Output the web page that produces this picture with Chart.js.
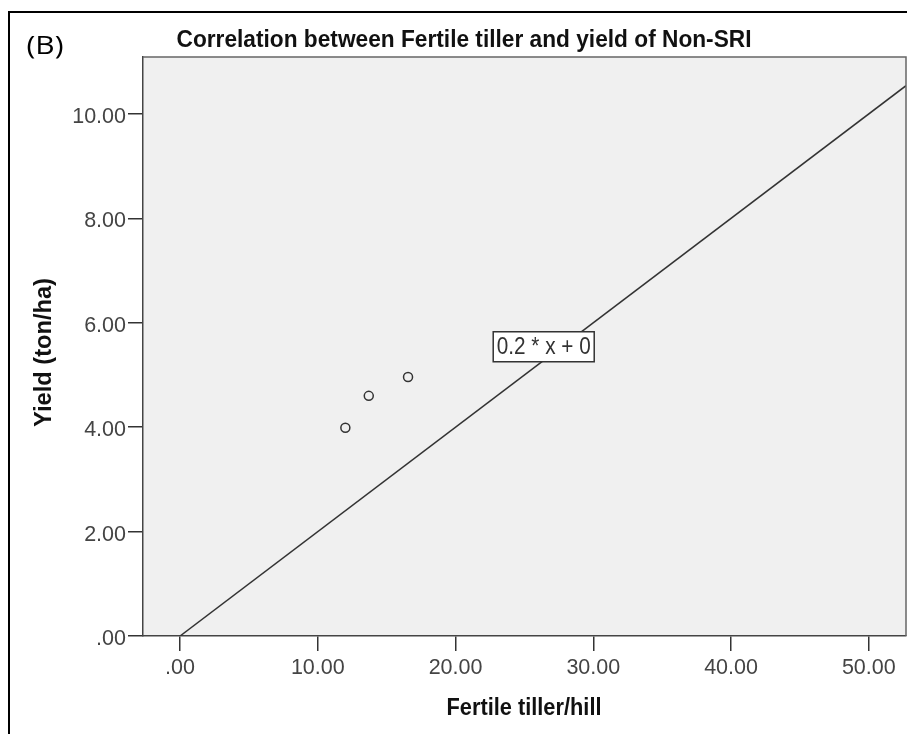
<!DOCTYPE html>
<html>
<head>
<meta charset="utf-8">
<script src="https://cdn.jsdelivr.net/npm/chart.js@4"></script>
<style>
  body { margin: 0; background: #fff; }
</style>
</head>
<body>
<canvas id="chart" width="907" height="734"></canvas>
<script>
// data
const tillers = [12.0, 13.7, 16.55];
const yields = [3.99, 4.60, 4.96];
const fitSlope = 0.2;
const fitIntercept = 0;
const fitLabel = '0.2 * x + 0';
const fitLabelAt = [26.4, 5.54];

const xTicks = [0, 10, 20, 30, 40, 50];
const xTickLabels = ['.00', '10.00', '20.00', '30.00', '40.00', '50.00'];
const yTicks = [0, 2, 4, 6, 8, 10];
const yTickLabels = ['.00', '2.00', '4.00', '6.00', '8.00', '10.00'];

const xMin = -2.69, xMax = 52.7;
const yMin = 0, yMax = 11.09;

const points = tillers.map((x, i) => ({ x: x, y: yields[i] }));
const fitLine = [0, xMax].map(x => ({ x: x, y: fitSlope * x + fitIntercept }));

const sans = '"Liberation Sans", Arial, sans-serif';
const tickFont = { family: sans, size: 21.5 };
const boldFont = 'bold 23px ' + sans;

// draw text squeezed/stretched to a given width
function fitText(ctx, text, x, y, font, width, rot) {
    ctx.save();
    ctx.font = font;
    const w = ctx.measureText(text).width;
    ctx.translate(x, y);
    if (rot) ctx.rotate(rot);
    ctx.scale(width / w, 1);
    ctx.fillText(text, 0, 0);
    ctx.restore();
}

const decor = {
    id: 'decor',
    beforeDraw(chart) {
        const { ctx, chartArea: a } = chart;
        ctx.save();
        ctx.fillStyle = '#f0f0f0';
        ctx.fillRect(a.left, a.top, a.right - a.left, a.bottom - a.top);
        ctx.restore();
    },
    afterDraw(chart) {
        const { ctx, chartArea: a, scales } = chart;
        ctx.save();
        // frame
        ctx.strokeStyle = '#666';
        ctx.lineWidth = 1.5;
        ctx.beginPath();
        ctx.moveTo(a.left, a.top);
        ctx.lineTo(a.right, a.top);
        ctx.lineTo(a.right, a.bottom);
        ctx.stroke();

        // outer figure border
        ctx.strokeStyle = '#000';
        ctx.lineWidth = 2;
        ctx.beginPath();
        ctx.moveTo(9, 734);
        ctx.lineTo(9, 12);
        ctx.lineTo(907, 12);
        ctx.stroke();

        // texts
        ctx.fillStyle = '#000';
        ctx.textAlign = 'left';
        ctx.textBaseline = 'middle';
        fitText(ctx, '(B)', 26.5, 47, '25px "Open Sans", ' + sans, 37);
        ctx.textBaseline = 'alphabetic';
        ctx.fillStyle = '#111';
        fitText(ctx, 'Correlation between Fertile tiller and yield of Non-SRI', 176.5, 47, boldFont, 575);
        fitText(ctx, 'Fertile tiller/hill', 446.5, 715, boldFont, 155);
        fitText(ctx, 'Yield (ton/ha)', 51, 427, boldFont, 149, -Math.PI / 2);

        // fit label box
        const cx = scales.x.getPixelForValue(fitLabelAt[0]);
        const cy = scales.y.getPixelForValue(fitLabelAt[1]);
        const w = 101;
        const h = 30;
        ctx.fillStyle = '#fff';
        ctx.fillRect(cx - w / 2, cy - h / 2, w, h);
        ctx.strokeStyle = '#333';
        ctx.lineWidth = 1.5;
        ctx.strokeRect(cx - w / 2, cy - h / 2, w, h);
        ctx.fillStyle = '#333';
        ctx.textBaseline = 'middle';
        fitText(ctx, fitLabel, cx - 47, cy + 1, '24px ' + sans, 94);
        ctx.restore();
    }
};

new Chart(document.getElementById('chart'), {
    type: 'scatter',
    data: {
        datasets: [
            {
                label: 'Observed',
                data: points,
                pointRadius: 4.5,
                pointBorderWidth: 1.5,
                pointBorderColor: '#333',
                pointBackgroundColor: 'rgba(0,0,0,0)',
                showLine: false
            },
            {
                label: 'Fit',
                data: fitLine,
                showLine: true,
                borderColor: '#333',
                borderWidth: 1.5,
                pointRadius: 0
            }
        ]
    },
    options: {
        responsive: false,
        animation: false,
        layout: { autoPadding: false, padding: { top: 57, right: 1, left: 0, bottom: 0 } },
        plugins: {
            legend: { display: false },
            tooltip: { enabled: false }
        },
        scales: {
            x: {
                type: 'linear',
                min: xMin,
                max: xMax,
                afterBuildTicks: s => { s.ticks = xTicks.map(v => ({ value: v })); },
                afterFit: s => { s.height = 98; s.paddingLeft = 0; s.paddingRight = 0; },
                grid: { drawOnChartArea: false, drawTicks: true, tickLength: 15, color: '#333', lineWidth: 1.5 },
                border: { display: true, color: '#444', width: 1.5 },
                ticks: {
                    color: '#444',
                    font: tickFont,
                    padding: 4,
                    maxRotation: 0,
                    callback: v => xTickLabels[xTicks.indexOf(v)]
                }
            },
            y: {
                type: 'linear',
                min: yMin,
                max: yMax,
                afterBuildTicks: s => { s.ticks = yTicks.map(v => ({ value: v })); },
                afterFit: s => { s.width = 143; s.paddingTop = 0; s.paddingBottom = 0; },
                grid: { drawOnChartArea: false, drawTicks: true, tickLength: 15, color: '#333', lineWidth: 1.5 },
                border: { display: true, color: '#444', width: 1.5 },
                ticks: {
                    color: '#444',
                    font: tickFont,
                    padding: 2,
                    labelOffset: 3,
                    callback: v => yTickLabels[yTicks.indexOf(v)]
                }
            }
        }
    },
    plugins: [decor]
});
</script>
</body>
</html>
